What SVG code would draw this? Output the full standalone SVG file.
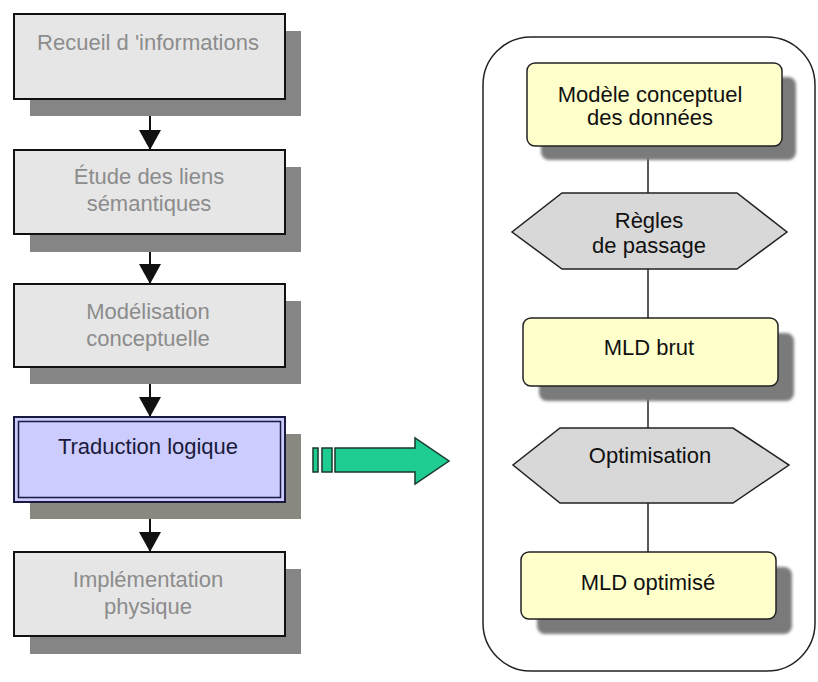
<svg xmlns="http://www.w3.org/2000/svg" width="818" height="682" viewBox="0 0 818 682">
<style>
.bg{fill:#ffffff}
.shadow{fill:#858585}
.step{fill:#e6e6e6;stroke:#111;stroke-width:2}
.ltxt{font-family:"Liberation Sans",Arial,sans-serif;font-size:22px;fill:#8c8c8c;text-anchor:middle}
.cur{fill:#ccccff;stroke:#1a1a40;stroke-width:2}
.curin{fill:none;stroke:#1a1a40;stroke-width:1.5}
.ctxt{font-family:"Liberation Sans",Arial,sans-serif;font-size:22px;fill:#1a1a3a;text-anchor:middle}
.flow{stroke:#111;stroke-width:2;fill:none}
.cont{fill:#fff;stroke:#222;stroke-width:1.5}
.doc{fill:#ffffcc;stroke:#222;stroke-width:1.5}
.rshadow{fill:#7a7a7a;filter:url(#blur)}
.hex{fill:#d8d8d8;stroke:#222;stroke-width:1.5}
.rtxt{font-family:"Liberation Sans",Arial,sans-serif;font-size:22px;fill:#111;text-anchor:middle}
.link{stroke:#222;stroke-width:1.5}
.big{fill:#1fcc92;stroke:#1a3a2a;stroke-width:1.5}
</style>
<defs>
<marker id="tri" markerUnits="userSpaceOnUse" viewBox="0 -11 20 22" refX="20" refY="0" markerWidth="20" markerHeight="22" orient="auto">
<path d="M0,-11 L20,0 L0,11 z" fill="#111"/>
</marker>
<filter id="blur" x="-10%" y="-10%" width="120%" height="120%"><feGaussianBlur stdDeviation="1.5"/></filter>
</defs>
<rect class="bg" x="0" y="0" width="818" height="682"/>

<g id="connectors">
<line class="flow" x1="150" y1="99" x2="150" y2="150" marker-end="url(#tri)"/>
<line class="flow" x1="150" y1="234" x2="150" y2="284" marker-end="url(#tri)"/>
<line class="flow" x1="150" y1="367" x2="150" y2="417" marker-end="url(#tri)"/>
<line class="flow" x1="150" y1="502" x2="150" y2="552" marker-end="url(#tri)"/>
<g id="bigarrow">
<rect class="big" x="313" y="448" width="5" height="24"/>
<rect class="big" x="322" y="448" width="10" height="24"/>
<path class="big" d="M335,448 L415,448 L415,438 L449,461 L415,484 L415,472 L335,472 z"/>
</g>
</g>

<g id="container">
<rect class="cont" x="483" y="37" width="332" height="634" rx="48" ry="48"/>
</g>
<g id="links">
<line class="link" x1="648" y1="146" x2="648" y2="193"/>
<line class="link" x1="648" y1="269" x2="648" y2="318"/>
<line class="link" x1="648" y1="386" x2="648" y2="428"/>
<line class="link" x1="648" y1="503" x2="648" y2="552"/>
</g>

<g id="n1">
<rect class="shadow" x="30" y="31" width="271" height="85"/>
<rect class="step" x="14" y="14" width="271" height="85"/>
<text class="ltxt" x="148" y="50">Recueil d 'informations</text>
</g>
<g id="n2">
<rect class="shadow" x="30" y="167" width="271" height="85"/>
<rect class="step" x="14" y="150" width="271" height="84"/>
<text class="ltxt" x="149" y="184">Étude des liens</text>
<text class="ltxt" x="149" y="211">sémantiques</text>
</g>
<g id="n3">
<rect class="shadow" x="30" y="301" width="271" height="83"/>
<rect class="step" x="14" y="284" width="271" height="83"/>
<text class="ltxt" x="148" y="319">Modélisation</text>
<text class="ltxt" x="148" y="346">conceptuelle</text>
</g>
<g id="n4">
<rect class="shadow" x="30" y="434" width="271" height="85" style="fill:#888880"/>
<rect class="cur" x="14" y="417" width="271" height="85"/>
<rect class="curin" x="18.5" y="421.5" width="262" height="76"/>
<text class="ctxt" x="148" y="454">Traduction logique</text>
</g>
<g id="n5">
<rect class="shadow" x="30" y="569" width="271" height="85"/>
<rect class="step" x="14" y="552" width="271" height="84"/>
<text class="ltxt" x="148" y="587">Implémentation</text>
<text class="ltxt" x="148" y="614">physique</text>
</g>

<g id="mcd">
<rect class="rshadow" x="541" y="77" width="255" height="83" rx="8"/>
<rect class="doc" x="527" y="63" width="255" height="83" rx="8"/>
<text class="rtxt" x="650" y="102">Modèle conceptuel</text>
<text class="rtxt" x="650" y="125">des données</text>
</g>
<g id="regles">
<polygon class="hex" points="562,193 737,193 787,232 737,269 562,269 512,232"/>
<text class="rtxt" x="649" y="228">Règles</text>
<text class="rtxt" x="649" y="253">de passage</text>
</g>
<g id="mldbrut">
<rect class="rshadow" x="539" y="333" width="255" height="68" rx="8"/>
<rect class="doc" x="523" y="318" width="255" height="68" rx="8"/>
<text class="rtxt" x="649" y="355">MLD brut</text>
</g>
<g id="optimisation">
<polygon class="hex" points="560,428 733,428 789,465 733,503 560,503 513,465"/>
<text class="rtxt" x="650" y="463">Optimisation</text>
</g>
<g id="mldopt">
<rect class="rshadow" x="537" y="567" width="255" height="67" rx="8"/>
<rect class="doc" x="521" y="552" width="255" height="67" rx="8"/>
<text class="rtxt" x="648" y="590">MLD optimisé</text>
</g>
</svg>
